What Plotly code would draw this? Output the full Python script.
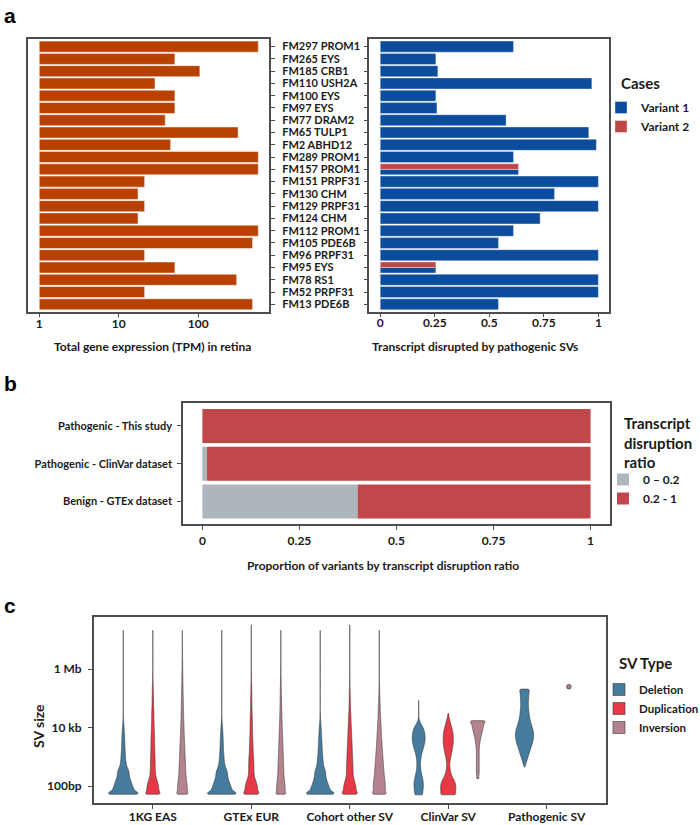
import plotly.graph_objects as go

FONT = "Lato"
INK = "#1a1a1a"
FRAME = "#4d4d4d"

COLOR_TPM = "#B94100"
COLOR_V1 = "#0B4C9C"
COLOR_V2 = "#C0474A"
COLOR_LOW = "#ADB5BD"
COLOR_DEL = "#457B9D"
COLOR_DUP = "#E63946"
COLOR_INV = "#B5838D"

# ---------------- panel a ----------------
CASES = ["FM297 PROM1", "FM265 EYS", "FM185 CRB1", "FM110 USH2A", "FM100 EYS",
         "FM97 EYS", "FM77 DRAM2", "FM65 TULP1", "FM2 ABHD12", "FM289 PROM1",
         "FM157 PROM1", "FM151 PRPF31", "FM130 CHM", "FM129 PRPF31", "FM124 CHM",
         "FM112 PROM1", "FM105 PDE6B", "FM96 PRPF31", "FM95 EYS", "FM78 RS1",
         "FM52 PRPF31", "FM13 PDE6B"]
TPM = [571, 51, 105, 28.6, 51, 51, 38.5, 318, 45, 571, 571, 21.2, 17.5, 21.2,
       17.5, 571, 484, 21.2, 51, 305, 21.2, 484]
VARIANT1 = [0.611, 0.255, 0.264, 0.970, 0.255, 0.26, 0.577, 0.956, 0.991, 0.611,
            0.634, 1.0, 0.799, 1.0, 0.733, 0.611, 0.542, 1.0, 0.255, 1.0, 1.0, 0.542]
VARIANT2_CASES = ["FM157 PROM1", "FM95 EYS"]
VARIANT2 = [0.634, 0.255]

# ---------------- panel b ----------------
GROUPS = ["Pathogenic - This study", "Pathogenic - ClinVar dataset", "Benign - GTEx dataset"]
LOW = [0.0, 0.012, 0.40]     # ratio 0 - 0.2
HIGH = [1.0, 0.988, 0.60]    # ratio 0.2 - 1

# ---------------- panel c ----------------
SV_SETS = ["1KG EAS", "GTEx EUR", "Cohort other SV", "ClinVar SV", "Pathogenic SV"]
# (log10 SV size in bp, relative frequency)
DEL_1KG = [(1.72, 150), (1.8, 112), (1.9, 102), (2.0, 92), (2.1, 82), (2.2, 72), (2.3, 62),
           (2.4, 58), (2.5, 56), (2.6, 44), (2.7, 32), (2.8, 27), (2.9, 24), (3.0, 22),
           (3.1, 20), (3.2, 19), (3.3, 17), (3.4, 16), (3.5, 15), (3.6, 14), (3.7, 13),
           (3.8, 11), (3.9, 10), (4.0, 8), (4.1, 6), (4.2, 4), (4.3, 2), (4.4, 1),
           (4.8, 1), (5.3, 1), (5.8, 1), (6.3, 1), (6.8, 1), (7.33, 1)]
DUP_1KG = [(1.72, 67), (1.8, 58), (1.9, 59), (2.0, 56), (2.1, 50), (2.2, 41), (2.3, 32),
           (2.4, 28), (2.5, 25), (2.6, 24), (2.7, 23), (2.8, 23), (2.9, 22), (3.0, 22),
           (3.1, 20), (3.2, 20), (3.3, 19), (3.4, 18), (3.5, 18), (3.6, 17), (3.7, 17),
           (3.8, 16), (3.9, 14), (4.0, 14), (4.1, 13), (4.2, 12), (4.3, 12), (4.4, 11),
           (4.5, 11), (4.6, 10), (4.7, 8), (4.8, 8), (4.9, 7), (5.0, 7), (5.1, 6), (5.2, 5),
           (5.3, 5), (5.4, 4), (5.5, 4), (5.6, 2), (5.7, 2), (5.8, 1), (5.9, 1), (6.3, 1),
           (6.8, 1), (7.33, 1)]
INV_1KG = [(1.72, 50), (1.8, 46), (1.9, 48), (2.0, 47), (2.1, 44), (2.2, 40), (2.3, 37),
           (2.4, 35), (2.5, 33), (2.6, 32), (2.7, 31), (2.8, 30), (2.9, 28), (3.0, 27),
           (3.1, 26), (3.2, 25), (3.3, 24), (3.4, 23), (3.5, 21), (3.6, 20), (3.7, 19),
           (3.8, 18), (3.9, 17), (4.0, 16), (4.1, 15), (4.2, 14), (4.3, 13), (4.4, 12),
           (4.5, 12), (4.6, 11), (4.7, 10), (4.8, 10), (4.9, 9), (5.0, 9), (5.1, 8),
           (5.2, 7), (5.3, 7), (5.4, 6), (5.5, 6), (5.6, 5), (5.7, 5), (5.8, 4), (5.9, 4),
           (6.0, 3), (6.1, 3), (6.2, 3), (6.3, 2), (6.4, 2), (6.5, 2), (6.6, 1), (6.7, 1),
           (6.8, 1), (7.0, 1), (7.33, 1)]
DEL_GTEX = [(1.72, 145), (1.8, 108), (1.9, 98), (2.0, 88), (2.1, 78), (2.2, 68), (2.3, 60),
            (2.4, 57), (2.5, 54), (2.6, 42), (2.7, 32), (2.8, 27), (2.9, 24), (3.0, 22),
            (3.1, 20), (3.2, 18), (3.3, 17), (3.4, 16), (3.5, 15), (3.6, 14), (3.7, 13),
            (3.8, 11), (3.9, 10), (4.0, 8), (4.1, 6), (4.2, 4), (4.3, 2), (4.4, 1),
            (4.9, 1), (5.4, 1), (5.9, 1), (6.4, 1), (6.9, 1), (7.33, 1)]
DUP_GTEX = [(1.72, 70), (1.8, 62), (1.9, 62), (2.0, 59), (2.1, 52), (2.2, 42), (2.3, 32),
            (2.4, 28), (2.5, 26), (2.6, 26), (2.7, 26), (2.8, 25), (2.9, 24), (3.0, 23),
            (3.1, 20), (3.2, 19), (3.3, 18), (3.4, 17), (3.5, 16), (3.6, 14), (3.7, 14),
            (3.8, 13), (3.9, 12), (4.0, 12), (4.1, 11), (4.2, 11), (4.3, 10), (4.4, 10),
            (4.5, 8), (4.6, 8), (4.7, 7), (4.8, 7), (4.9, 6), (5.0, 6), (5.1, 5), (5.2, 5),
            (5.3, 4), (5.4, 4), (5.5, 4), (5.6, 2), (5.7, 2), (5.8, 2), (5.9, 1), (6.0, 1),
            (6.1, 1), (6.5, 1), (7.0, 1), (7.52, 1)]
INV_GTEX = [(1.72, 44), (1.8, 40), (1.9, 42), (2.0, 41), (2.1, 38), (2.2, 35), (2.3, 32),
            (2.4, 30), (2.5, 29), (2.6, 28), (2.7, 27), (2.8, 26), (2.9, 25), (3.0, 24),
            (3.1, 23), (3.2, 22), (3.3, 21), (3.4, 20), (3.5, 19), (3.6, 18), (3.7, 17),
            (3.8, 16), (3.9, 15), (4.0, 14), (4.1, 13), (4.2, 12), (4.3, 11), (4.4, 10),
            (4.5, 10), (4.6, 9), (4.7, 8), (4.8, 8), (4.9, 7), (5.0, 7), (5.1, 6), (5.2, 5),
            (5.3, 5), (5.4, 4), (5.5, 4), (5.6, 3), (5.7, 3), (5.8, 2), (5.9, 2), (6.0, 2),
            (6.2, 1), (6.5, 1), (6.9, 1), (7.33, 1)]
DEL_COH = [(1.72, 140), (1.8, 104), (1.9, 94), (2.0, 84), (2.1, 74), (2.2, 64), (2.3, 57),
           (2.4, 54), (2.5, 52), (2.6, 42), (2.7, 34), (2.8, 30), (2.9, 27), (3.0, 25),
           (3.1, 23), (3.2, 21), (3.3, 19), (3.4, 18), (3.5, 17), (3.6, 15), (3.7, 14),
           (3.8, 12), (3.9, 11), (4.0, 9), (4.1, 7), (4.2, 5), (4.3, 3), (4.4, 2), (4.5, 1),
           (5.0, 1), (5.5, 1), (6.0, 1), (6.5, 1), (7.0, 1), (7.33, 1)]
DUP_COH = [(1.72, 70), (1.8, 62), (1.9, 62), (2.0, 59), (2.1, 53), (2.2, 44), (2.3, 37),
           (2.4, 34), (2.5, 32), (2.6, 32), (2.7, 31), (2.8, 30), (2.9, 29), (3.0, 28),
           (3.1, 26), (3.2, 25), (3.3, 24), (3.4, 23), (3.5, 22), (3.6, 20), (3.7, 19),
           (3.8, 18), (3.9, 17), (4.0, 16), (4.1, 14), (4.2, 13), (4.3, 12), (4.4, 11),
           (4.5, 10), (4.6, 8), (4.7, 7), (4.8, 6), (4.9, 6), (5.0, 5), (5.1, 5), (5.2, 4),
           (5.3, 4), (5.4, 2), (5.5, 2), (5.6, 2), (5.7, 1), (5.8, 1), (6.2, 1), (6.7, 1),
           (7.1, 1), (7.52, 1)]
INV_COH = [(1.72, 62), (1.8, 56), (1.9, 58), (2.0, 59), (2.1, 57), (2.2, 54), (2.3, 51),
           (2.4, 48), (2.5, 45), (2.6, 43), (2.7, 41), (2.8, 39), (2.9, 37), (3.0, 35),
           (3.1, 33), (3.2, 31), (3.3, 29), (3.4, 27), (3.5, 26), (3.6, 24), (3.7, 22),
           (3.8, 21), (3.9, 19), (4.0, 18), (4.1, 16), (4.2, 15), (4.3, 13), (4.4, 12),
           (4.5, 11), (4.6, 10), (4.7, 9), (4.8, 8), (4.9, 7), (5.0, 6), (5.1, 5), (5.2, 4),
           (5.3, 3), (5.4, 3), (5.5, 2), (5.6, 2), (5.8, 1), (6.0, 1), (6.4, 1), (6.9, 1),
           (7.33, 1)]
DEL_CLINVAR = [(1.7, 40), (1.8, 40), (1.9, 44), (2.0, 46), (2.1, 46), (2.2, 42), (2.3, 36),
               (2.4, 30), (2.5, 24), (2.6, 20), (2.7, 18), (2.8, 18), (2.9, 20), (3.0, 24),
               (3.1, 30), (3.2, 38), (3.3, 46), (3.4, 54), (3.5, 60), (3.6, 63), (3.7, 63),
               (3.8, 60), (3.9, 54), (4.0, 44), (4.1, 28), (4.2, 12), (4.3, 4), (4.4, 1),
               (4.6, 1), (4.8, 1), (4.93, 1)]
DUP_CLINVAR = [(1.7, 62), (1.8, 58), (1.9, 60), (2.0, 60), (2.1, 56), (2.2, 46), (2.3, 34),
               (2.4, 24), (2.5, 18), (2.6, 14), (2.7, 12), (2.8, 13), (2.9, 16), (3.0, 20),
               (3.1, 26), (3.2, 30), (3.3, 34), (3.4, 38), (3.5, 40), (3.6, 40), (3.7, 40),
               (3.8, 38), (3.9, 34), (4.0, 28), (4.1, 22), (4.2, 16), (4.3, 10), (4.4, 5),
               (4.49, 2)]
INV_CLINVAR = [(2.26, 12), (2.4, 11), (2.5, 11), (2.6, 11), (2.7, 11), (2.8, 11), (2.9, 11),
               (3.0, 11), (3.1, 11), (3.2, 11), (3.3, 12), (3.4, 14), (3.5, 18), (3.6, 21),
               (3.7, 26), (3.8, 32), (3.9, 37), (4.0, 42), (4.1, 47), (4.2, 46), (4.24, 35)]
DEL_PATH = [(2.66, 2), (2.75, 8), (2.85, 14), (2.95, 20), (3.05, 26), (3.15, 32), (3.25, 38),
            (3.35, 44), (3.45, 50), (3.55, 55), (3.65, 58), (3.75, 60), (3.85, 58), (3.95, 54),
            (4.05, 48), (4.15, 42), (4.25, 37), (4.35, 33), (4.45, 30), (4.55, 28), (4.65, 26),
            (4.75, 25), (4.85, 25), (4.95, 26), (5.05, 27), (5.15, 28), (5.25, 28), (5.32, 22)]
INV_PATH = [(5.4, 1)]

SIZE_TICKS = [2, 4, 6]
SIZE_LABELS = ["100bp", "10 kb", "1 Mb"]


def expand(pairs):
    return [v for v, n in pairs for _ in range(n)]


def tfont(size=12):
    return dict(family=FONT, size=size, color=INK, weight="bold")


def px_x(v):
    return v / 700


def px_y(v):
    return 1 - v / 825


fig = go.Figure()

# panel a, left: total expression
fig.add_trace(go.Bar(y=CASES, x=[v - 1 for v in TPM], base=1, orientation="h",
                     width=0.9, marker=dict(color=COLOR_TPM,
                                            line=dict(color="rgba(255,255,255,0.7)", width=0.7)),
                     xaxis="x", yaxis="y", showlegend=False))

# panel a, right: transcript disrupted
split = [c in VARIANT2_CASES for c in CASES]
fig.add_trace(go.Bar(y=CASES, x=VARIANT1, orientation="h", name="Variant 1",
                     width=[0.45 if s else 0.9 for s in split],
                     offset=[0 if s else -0.45 for s in split],
                     marker=dict(color=COLOR_V1, line=dict(color="rgba(255,255,255,0.6)", width=0.6)),
                     xaxis="x2", yaxis="y2", legend="legend"))
fig.add_trace(go.Bar(y=VARIANT2_CASES, x=VARIANT2, orientation="h", name="Variant 2",
                     width=0.45, offset=-0.45,
                     marker=dict(color=COLOR_V2, line=dict(color="rgba(255,255,255,0.6)", width=0.6)),
                     xaxis="x2", yaxis="y2", legend="legend"))

# panel b
fig.add_trace(go.Bar(y=GROUPS, x=LOW, orientation="h", name="0 \u2013 0.2", width=0.9,
                     marker=dict(color=COLOR_LOW, line=dict(width=0)),
                     xaxis="x3", yaxis="y3", legend="legend2"))
fig.add_trace(go.Bar(y=GROUPS, x=HIGH, base=LOW, orientation="h", name="0.2 - 1", width=0.9,
                     marker=dict(color=COLOR_V2, line=dict(width=0)),
                     xaxis="x3", yaxis="y3", legend="legend2"))

# panel c: violins scaled by count so relative widths follow the frequencies above
violins = [
    ("Deletion", COLOR_DEL, [("1KG EAS", DEL_1KG, "sv"), ("GTEx EUR", DEL_GTEX, "sv"),
                             ("Cohort other SV", DEL_COH, "sv"), ("ClinVar SV", DEL_CLINVAR, "sv")]),
    ("Duplication", COLOR_DUP, [("1KG EAS", DUP_1KG, "sv"), ("GTEx EUR", DUP_GTEX, "sv"),
                                ("Cohort other SV", DUP_COH, "sv"), ("ClinVar SV", DUP_CLINVAR, "cv")]),
    ("Inversion", COLOR_INV, [("1KG EAS", INV_1KG, "sv"), ("GTEx EUR", INV_GTEX, "sv"),
                              ("Cohort other SV", INV_COH, "sv"), ("ClinVar SV", INV_CLINVAR, "cv")]),
]
vline = dict(color="#3a3a3a", width=0.6)
for name, color, sets in violins:
    for i, (cat, pairs, grp) in enumerate(sets):
        y = expand(pairs)
        fig.add_trace(go.Violin(
            x=[cat] * len(y), y=y, name=name, legendgroup=name, showlegend=(i == 0),
            legend="legend3", offsetgroup=name, alignmentgroup="main",
            scalegroup=grp, scalemode="count", spanmode="hard", bandwidth=0.06,
            fillcolor=color, line=vline, points=False, hoverinfo="skip",
            xaxis="x4", yaxis="y4"))

y = expand(DEL_PATH)
fig.add_trace(go.Violin(
    x=["Pathogenic SV"] * len(y), y=y, name="Deletion", legendgroup="Deletion",
    showlegend=False, legend="legend3", offsetgroup="pdel", alignmentgroup="path",
    scalegroup="sv", scalemode="count", spanmode="hard", bandwidth=0.06,
    fillcolor=COLOR_DEL, line=vline, points=False, hoverinfo="skip",
    xaxis="x4", yaxis="y4"))
y = expand(INV_PATH)
fig.add_trace(go.Violin(
    x=["Pathogenic SV"] * len(y), y=y, name="Inversion", legendgroup="Inversion",
    showlegend=False, legend="legend3", offsetgroup="pinv", alignmentgroup="path",
    scalegroup="single", spanmode="hard", fillcolor="rgba(0,0,0,0)",
    line=dict(width=0), points="all", pointpos=0, jitter=0,
    marker=dict(color=COLOR_INV, size=4.5, line=dict(color="#3a3a3a", width=0.8)),
    hoverinfo="skip", xaxis="x4", yaxis="y4"))

frame = dict(showline=True, mirror=True, linecolor=FRAME, linewidth=1.5, showgrid=False,
             zeroline=False, ticks="outside", ticklen=4, tickwidth=1.2, tickcolor=FRAME,
             tickfont=tfont(12), automargin=False)
prop_ticks = dict(tickvals=[0, 0.25, 0.5, 0.75, 1], ticktext=["0", "0.25", "0.5", "0.75", "1"])

fig.update_layout(
    width=700, height=825, margin=dict(l=0, r=0, t=0, b=0, autoexpand=False),
    paper_bgcolor="white", plot_bgcolor="white",
    font=dict(family=FONT, color=INK),
    barmode="overlay", violinmode="group", violingap=0.1, violingroupgap=0,
    xaxis=dict(frame, domain=[0.0404, 0.3847], anchor="y", type="log",
               range=[-0.138, 2.895], tickvals=[1, 10, 100], ticktext=["1", "10", "100"],
               ticklabelstandoff=-4),
    yaxis=dict(frame, domain=[0.6222, 0.9524], anchor="x", type="category",
               categoryorder="array", categoryarray=CASES, range=[21.6, -0.6],
               tickmode="array", tickvals=CASES, ticktext=CASES, tickfont=tfont(11),
               side="right", ticklabelstandoff=5),
    xaxis2=dict(frame, domain=[0.5276, 0.8704], anchor="y2", range=[-0.05, 1.05],
                ticklabelstandoff=-5, **prop_ticks),
    yaxis2=dict(frame, domain=[0.6222, 0.9524], anchor="x2", type="category",
                categoryorder="array", categoryarray=CASES, range=[21.6, -0.6],
                tickmode="array", tickvals=CASES, showticklabels=False),
    xaxis3=dict(frame, domain=[0.2614, 0.8714], anchor="y3", range=[-0.05, 1.05],
                ticklabelstandoff=1, **prop_ticks),
    yaxis3=dict(frame, domain=[0.3645, 0.5112], anchor="x3", type="category",
                categoryorder="array", categoryarray=GROUPS, range=[2.6, -0.6],
                tickfont=tfont(11), ticklabelstandoff=3),
    xaxis4=dict(frame, domain=[0.1339, 0.8654], anchor="y4", type="category",
                categoryorder="array", categoryarray=SV_SETS, range=[-0.6, 4.6],
                ticklabelstandoff=-2),
    yaxis4=dict(frame, domain=[0.0263, 0.2525], anchor="x4", range=[1.41, 7.80],
                tickvals=SIZE_TICKS, ticktext=SIZE_LABELS, ticklabelstandoff=4),
    legend=dict(font=tfont(12), x=px_x(601), y=px_y(93), xanchor="left", yanchor="top",
                bgcolor="rgba(0,0,0,0)", traceorder="normal"),
    legend2=dict(font=tfont(12), x=px_x(603), y=px_y(465), xanchor="left", yanchor="top",
                 bgcolor="rgba(0,0,0,0)", traceorder="normal"),
    legend3=dict(font=tfont(11.5), x=px_x(599), y=px_y(675), xanchor="left", yanchor="top",
                 bgcolor="rgba(0,0,0,0)", traceorder="normal"),
)

# panel letters
for txt, px, py in [("a", 2, 15), ("b", 2, 383), ("c", 2, 605)]:
    fig.add_annotation(text=txt, x=px_x(px), y=px_y(py), xref="paper", yref="paper",
                       xanchor="left", yanchor="middle", showarrow=False,
                       font=dict(family="Liberation Sans", size=21, color="black", weight="bold"))

# axis titles
for txt, px, py in [("Total gene expression (TPM) in retina", 152.5, 346),
                    ("Transcript disrupted by pathogenic SVs", 475.4, 346),
                    ("Proportion of variants by transcript disruption ratio", 383, 565)]:
    fig.add_annotation(text=txt, x=px_x(px), y=px_y(py), xref="paper", yref="paper",
                       xanchor="center", yanchor="middle", showarrow=False, font=tfont(12))
fig.add_annotation(text="SV size", x=px_x(38), y=px_y(726), xref="paper", yref="paper",
                   textangle=-90, xanchor="center", yanchor="middle", showarrow=False,
                   font=tfont(14))

# legend titles
for txt, px, py in [("Cases", 619, 83), ("Transcript<br>disruption<br>ratio", 622, 442),
                    ("SV Type", 617, 663)]:
    fig.add_annotation(text=txt, x=px_x(px), y=px_y(py), xref="paper", yref="paper",
                       xanchor="left", yanchor="middle", align="left", showarrow=False,
                       font=tfont(15))

fig.write_html("out.html", config={"displayModeBar": False},
               post_script="document.body.style.margin='0px';")
